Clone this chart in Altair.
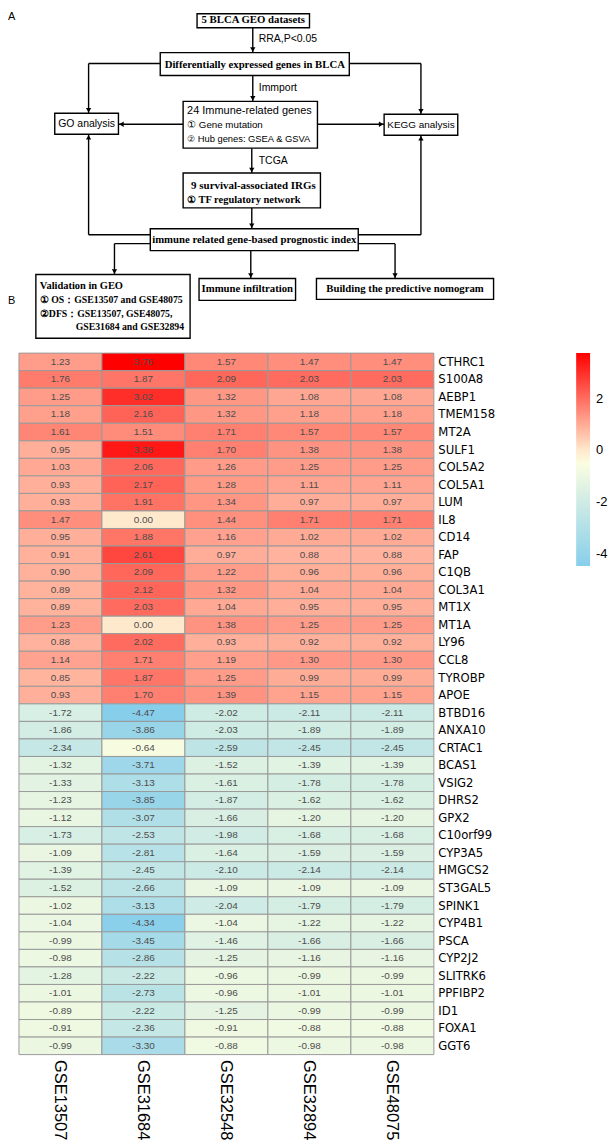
import altair as alt
import pandas as pd

# ---------------- Panel B data (heatmap) ----------------
genes = ["CTHRC1", "S100A8", "AEBP1", "TMEM158", "MT2A", "SULF1", "COL5A2", "COL5A1",
         "LUM", "IL8", "CD14", "FAP", "C1QB", "COL3A1", "MT1X", "MT1A", "LY96", "CCL8",
         "TYROBP", "APOE", "BTBD16", "ANXA10", "CRTAC1", "BCAS1", "VSIG2", "DHRS2", "GPX2",
         "C10orf99", "CYP3A5", "HMGCS2", "ST3GAL5", "SPINK1", "CYP4B1", "PSCA", "CYP2J2",
         "SLITRK6", "PPFIBP2", "ID1", "FOXA1", "GGT6"]
datasets = ["GSE13507", "GSE31684", "GSE32548", "GSE32894", "GSE48075"]

gse13507 = [1.23, 1.76, 1.25, 1.18, 1.61, 0.95, 1.03, 0.93, 0.93, 1.47, 0.95, 0.91, 0.90, 0.89,
            0.89, 1.23, 0.88, 1.14, 0.85, 0.93, -1.72, -1.86, -2.34, -1.32, -1.33, -1.23, -1.12,
            -1.73, -1.09, -1.39, -1.52, -1.02, -1.04, -0.99, -0.98, -1.28, -1.01, -0.89, -0.91, -0.99]
gse31684 = [3.76, 1.87, 3.02, 2.16, 1.51, 3.38, 2.06, 2.17, 1.91, 0.00, 1.88, 2.61, 2.09, 2.12,
            2.03, 0.00, 2.02, 1.71, 1.87, 1.70, -4.47, -3.86, -0.64, -3.71, -3.13, -3.85, -3.07,
            -2.53, -2.81, -2.45, -2.66, -3.13, -4.34, -3.45, -2.86, -2.22, -2.73, -2.22, -2.36, -3.30]
gse32548 = [1.57, 2.09, 1.32, 1.32, 1.71, 1.70, 1.26, 1.28, 1.34, 1.44, 1.16, 0.97, 1.22, 1.32,
            1.04, 1.38, 0.93, 1.19, 1.25, 1.39, -2.02, -2.03, -2.59, -1.52, -1.61, -1.87, -1.66,
            -1.98, -1.64, -2.10, -1.09, -2.04, -1.04, -1.46, -1.25, -0.96, -0.96, -1.25, -0.91, -0.88]
gse32894 = [1.47, 2.03, 1.08, 1.18, 1.57, 1.38, 1.25, 1.11, 0.97, 1.71, 1.02, 0.88, 0.96, 1.04,
            0.95, 1.25, 0.92, 1.30, 0.99, 1.15, -2.11, -1.89, -2.45, -1.39, -1.78, -1.62, -1.20,
            -1.68, -1.59, -2.14, -1.09, -1.79, -1.22, -1.66, -1.16, -0.99, -1.01, -0.99, -0.88, -0.98]
gse48075 = [1.47, 2.03, 1.08, 1.18, 1.57, 1.38, 1.25, 1.11, 0.97, 1.71, 1.02, 0.88, 0.96, 1.04,
            0.95, 1.25, 0.92, 1.30, 0.99, 1.15, -2.11, -1.89, -2.45, -1.39, -1.78, -1.62, -1.20,
            -1.68, -1.59, -2.14, -1.09, -1.79, -1.22, -1.66, -1.16, -0.99, -1.01, -0.99, -0.88, -0.98]
legend_ticks = [2, 0, -2, -4]

# ---------------- Panel A content (flowchart) ----------------
box_names = ["datasets", "deg", "irg", "go", "kegg", "surv", "index", "valid", "infil", "nomo"]
flow_texts = [
    # text, font kind, alignment
    ("A", "sans", "left"),
    ("5 BLCA GEO datasets", "serif", "center"),
    ("RRA,P<0.05", "sans", "left"),
    ("Differentially expressed genes in BLCA", "serif", "center"),
    ("Immport", "sans", "left"),
    ("24 Immune-related genes", "sans", "left"),
    ("① Gene mutation", "sans", "left"),
    ("② Hub genes: GSEA & GSVA", "sans", "left"),
    ("GO analysis", "sans", "center"),
    ("KEGG analysis", "sans", "center"),
    ("TCGA", "sans", "left"),
    ("9 survival-associated IRGs", "serif", "left"),
    ("① TF regulatory network", "serif", "left"),
    ("immune related gene-based prognostic index", "serif", "center"),
    ("Validation in GEO", "serif", "left"),
    ("① OS：GSE13507 and GSE48075", "serif", "left"),
    ("②DFS：GSE13507, GSE48075,", "serif", "left"),
    ("GSE31684 and GSE32894", "serif", "left"),
    ("Immune infiltration", "serif", "center"),
    ("Building the predictive nomogram", "serif", "center"),
    ("B", "sans", "left"),
]

# ---- layout of the flowchart (pixel positions in the figure) ----
box_pos = {
    "datasets": (198, 311, 9, 23),
    "deg": (161, 351, 48, 71),
    "irg": (184, 319, 97, 144),
    "go": (55, 119, 109, 130),
    "kegg": (386, 460, 110, 131),
    "surv": (184, 322, 169, 204),
    "index": (151, 360, 225, 247),
    "valid": (36, 191, 271, 335),
    "infil": (200, 297, 275, 297),
    "nomo": (318, 496, 275, 296),
}
text_pos = [  # x, y, font size (same order as flow_texts)
    (8, 12, 11), (254.5, 15, 10.8), (260, 34, 10.5), (256, 60, 10.8), (260, 84, 10.5),
    (188, 107, 11), (188, 121, 9.8), (188, 135, 9.4), (87, 120, 10.5), (423, 121, 10),
    (260, 157, 10.5), (192, 182, 11), (188, 196, 10.5), (255.5, 236, 10.8), (40, 283, 10.5),
    (40, 297, 9.8), (40, 311, 9.8), (76, 324, 9.8), (248.5, 286, 10.8), (407, 286, 10.8),
    (8, 298, 11),
]
connectors = [
    [(254, 23), (254, 48)],
    [(161, 59), (89, 59), (89, 109)],
    [(351, 59), (423, 59), (423, 110)],
    [(254, 71), (254, 97)],
    [(184, 120), (119, 120)],
    [(319, 120), (386, 120)],
    [(253, 144), (253, 169)],
    [(253, 204), (253, 225)],
    [(151, 231), (89, 231), (89, 130)],
    [(360, 231), (423, 231), (423, 131)],
    [(151, 240), (115, 240), (115, 271)],
    [(252, 247), (252, 275)],
    [(360, 240), (397, 240), (397, 275)],
]

# ---------------- build tables ----------------
heat_rows = []
for ds, vals in zip(datasets, [gse13507, gse31684, gse32548, gse32894, gse48075]):
    for g, v in zip(genes, vals):
        heat_rows.append({"gene": g, "dataset": ds, "value": v})
heat_df = pd.DataFrame(heat_rows)
vmin, vmax = float(heat_df["value"].min()), float(heat_df["value"].max())
vmid = (vmin + vmax) / 2

box_df = pd.DataFrame([{"name": n, "x1": box_pos[n][0], "x2": box_pos[n][1],
                        "y1": box_pos[n][2], "y2": box_pos[n][3]} for n in box_names])
text_df = pd.DataFrame([{"text": t, "kind": k, "al": a, "x": p[0], "y": p[1], "size": p[2]}
                        for (t, k, a), p in zip(flow_texts, text_pos)])

seg_rows, head_rows = [], []
for path in connectors:
    for (xa, ya), (xb, yb) in zip(path[:-1], path[1:]):
        seg_rows.append({"x": xa, "y": ya, "x2": xb, "y2": yb})
    (px, py), (ex, ey) = path[-2], path[-1]
    dx = (ex > px) - (ex < px)
    dy = (ey > py) - (ey < py)
    if dy > 0:
        shp = "triangle-down"
    elif dy < 0:
        shp = "triangle-up"
    elif dx > 0:
        shp = "triangle-right"
    else:
        shp = "triangle-left"
    head_rows.append({"x": ex - dx * 3, "y": ey - dy * 3, "shape": shp})
seg_df = pd.DataFrame(seg_rows)
head_df = pd.DataFrame(head_rows)

# ---------------- Panel A chart ----------------
FW, FH = 600, 332
xs = alt.Scale(domain=[8, 8 + FW], nice=False, zero=False)
ys = alt.Scale(domain=[8, 8 + FH], nice=False, zero=False, reverse=True)

segs = alt.Chart(seg_df).mark_rule(color="black", strokeWidth=1.4).encode(
    x=alt.X("x:Q", scale=xs, axis=None), y=alt.Y("y:Q", scale=ys, axis=None),
    x2="x2:Q", y2="y2:Q")
heads = alt.Chart(head_df).mark_point(filled=True, color="black", size=28, opacity=1).encode(
    x=alt.X("x:Q", scale=xs, axis=None), y=alt.Y("y:Q", scale=ys, axis=None),
    shape=alt.Shape("shape:N", scale=None))
rects = alt.Chart(box_df).mark_rect(fill="white", stroke="black", strokeWidth=1.4).encode(
    x=alt.X("x1:Q", scale=xs, axis=None), x2="x2:Q",
    y=alt.Y("y1:Q", scale=ys, axis=None), y2="y2:Q")

fonts = {"serif": ("Liberation Serif", "bold"), "sans": ("Liberation Sans", "normal")}
text_layers = []
for kind in ["serif", "sans"]:
    for al in ["left", "center"]:
        f, w = fonts[kind]
        text_layers.append(
            alt.Chart(text_df).transform_filter(
                (alt.datum.kind == kind) & (alt.datum.al == al)
            ).mark_text(align=al, baseline="middle", font=f, fontWeight=w, color="black").encode(
                x=alt.X("x:Q", scale=xs, axis=None), y=alt.Y("y:Q", scale=ys, axis=None),
                text="text:N", size=alt.Size("size:Q", scale=None))
        )

flow = alt.layer(segs, heads, rects, *text_layers).properties(width=FW, height=FH)

# ---------------- Panel B chart ----------------
base = alt.Chart(heat_df).transform_calculate(
    label="replace(format(datum.value, '.2f'), '\u2212', '-')"
).encode(
    x=alt.X("dataset:N", sort=datasets,
            scale=alt.Scale(paddingInner=0, paddingOuter=0.066, align=1),
            axis=alt.Axis(title=None, orient="bottom", labelAngle=90, labelFontSize=16.5,
                          labelColor="black", labelFont="Liberation Sans", ticks=False,
                          domain=False, labelPadding=5)),
    y=alt.Y("gene:N", sort=genes, scale=alt.Scale(paddingInner=0, paddingOuter=0),
            axis=alt.Axis(title=None, orient="right", labelFontSize=13, labelColor="black",
                          labelFont="Liberation Sans Narrow, Arial Narrow, DejaVu Sans Condensed, Liberation Sans",
                          ticks=False, domain=False, labelPadding=4)),
)
cells = base.mark_rect(stroke="#999999", strokeWidth=1).encode(
    color=alt.Color("value:Q",
                    scale=alt.Scale(domain=[vmin, vmid, vmax],
                                    range=["#87CEEB", "#FFFFE0", "#FF0000"], interpolate="rgb"),
                    legend=alt.Legend(orient="none", legendX=571, legendY=342, direction="vertical",
                                      title=None, gradientLength=214, gradientThickness=14,
                                      values=legend_ticks, labelFontSize=13,
                                      labelFont="Liberation Sans", labelColor="black",
                                      labelOffset=6, gradientStrokeWidth=0, labelOverlap=False,
                                      labelExpr="replace(datum.label, '\u2212', '-')")))
nums = base.mark_text(fontSize=10, color="#4D4D4D", font="Liberation Sans").encode(
    text="label:N")
heat = alt.layer(cells, nums).properties(width=428, height=705)

chart = alt.vconcat(flow, heat, spacing=9).properties(padding=0).configure_view(strokeWidth=0)
chart.save("out.html", embed_options={"renderer": "svg", "actions": False})
